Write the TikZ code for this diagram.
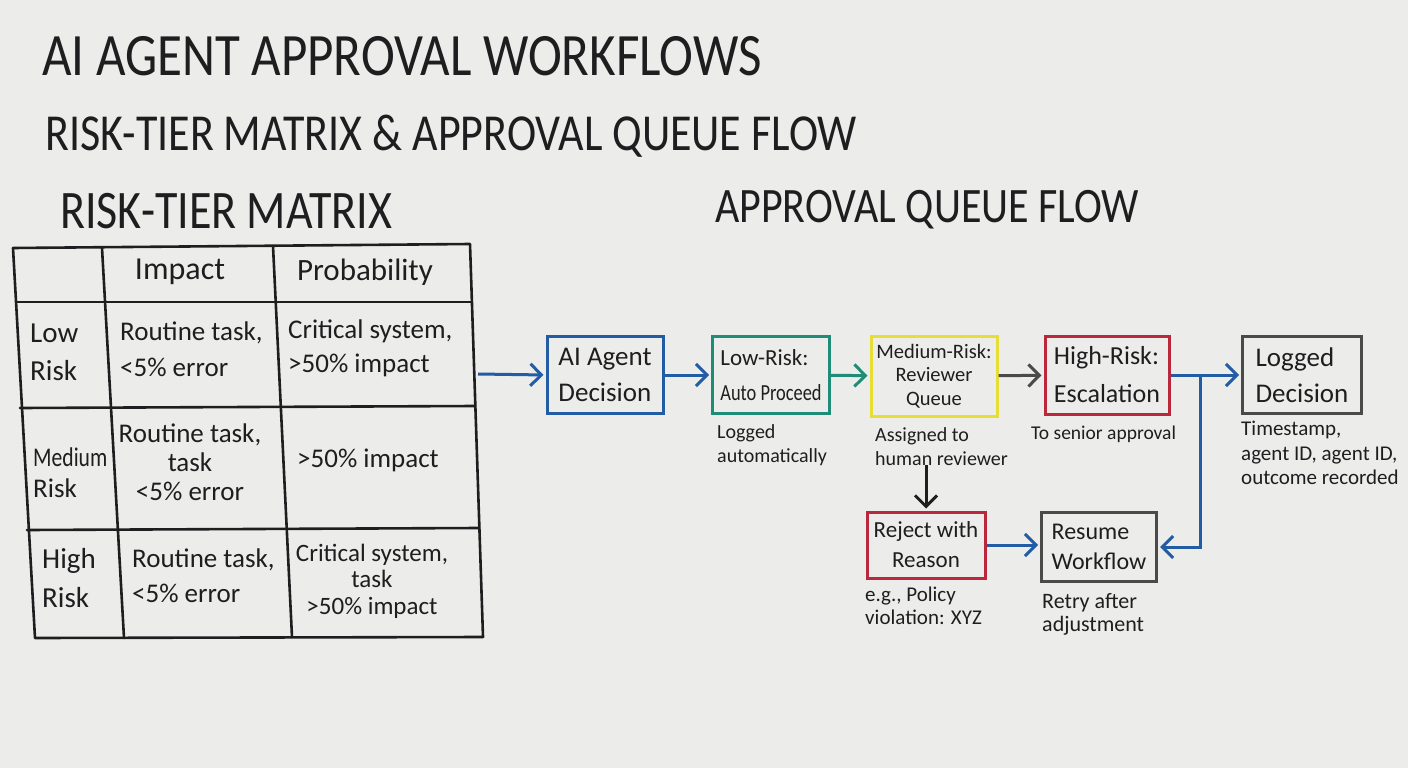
\documentclass[tikz,border=0pt]{standalone}
\usepackage{fontspec}
\setmainfont{Carlito}
\usepackage{graphicx}
\usetikzlibrary{arrows.meta}

\definecolor{board}{RGB}{236,237,234}
\definecolor{ink}{RGB}{30,30,32}
\definecolor{mkblue}{RGB}{34,92,165}
\definecolor{mkteal}{RGB}{30,140,118}
\definecolor{mkyellow}{RGB}{230,222,52}
\definecolor{mkred}{RGB}{186,40,62}
\definecolor{mkgray}{RGB}{74,74,72}
\newcommand{\tallcaps}[1]{\scalebox{1}[1.18]{#1}}

\begin{document}
\begin{tikzpicture}[x=1pt, y=-1pt,
  heading/.style={anchor=base west, text=ink, inner sep=0pt},
  gridline/.style={ink, line width=2.6pt, line cap=round, line join=round},
  celltext/.style={text=ink, inner sep=0pt, font={\fontsize{27}{36}\selectfont}},
  flowbox/.style={draw, line width=3pt, text=ink, align=left, inner sep=0pt, minimum width=116pt, minimum height=77pt},
  note/.style={text=ink, inner sep=0pt, anchor=north west, align=left, font={\fontsize{20}{24.5}\selectfont}},
  link/.style={line width=3pt, shorten >=2pt, -{Straight Barb[length=11pt, width=22pt]}}]
\useasboundingbox (0,0) rectangle (1408,768);
\fill[board] (0,0) rectangle (1408,768);

\node[heading, font={\fontsize{51}{51}\selectfont}] (title) at (42,76) {\tallcaps{AI AGENT APPROVAL WORKFLOWS}};
\node[heading, font={\fontsize{44}{44}\selectfont}] (subtitle) at (45,150) {\tallcaps{RISK-TIER MATRIX \& APPROVAL QUEUE FLOW}};
\node[heading, font={\fontsize{46}{46}\selectfont}] (matrixtitle) at (60,228) {\tallcaps{RISK-TIER MATRIX}};
\node[heading, font={\fontsize{42}{42}\selectfont}] (flowtitle) at (715,222) {\tallcaps{APPROVAL QUEUE FLOW}};

\draw[gridline] (13,248) -- (470,244) -- (483,637) -- (35,638) -- cycle;
\draw[gridline] (16,302) -- (472,302);
\draw[gridline] (20,408) -- (475,406);
\draw[gridline] (27,530) -- (479,528);
\draw[gridline] (102,248) -- (124,638);
\draw[gridline] (273,246) -- (292,637);

\node[celltext, font={\fontsize{32}{32}\selectfont}] (impacthead) at (180,272) {Impact};
\node[celltext, font={\fontsize{31}{31}\selectfont}] (probhead) at (365,272) {Probability};
\node[celltext, anchor=west, align=left, font={\fontsize{29}{38}\selectfont}] (lowhead) at (30,352) {Low\\Risk};
\node[celltext, anchor=west, align=left] (lowimpact) at (120,349) {Routine task,\\<5\% error};
\node[celltext, anchor=west, align=left, font={\fontsize{27}{34}\selectfont}] (lowprob) at (288,348) {Critical system,\\>50\% impact};
\node[celltext, anchor=west, align=left, font={\fontsize{27}{31}\selectfont}] (medhead) at (33,473) {\scalebox{0.8}[1]{Medium}\\Risk};
\node[celltext, align=center, font={\fontsize{27}{29}\selectfont}] (medimpact) at (190,462) {Routine task,\\task\\<5\% error};
\node[celltext] (medprob) at (368,460) {>50\% impact};
\node[celltext, anchor=west, align=left, font={\fontsize{29}{39}\selectfont}] (highhead) at (42,578) {High\\Risk};
\node[celltext, anchor=west, align=left, font={\fontsize{27}{35}\selectfont}] (highimpact) at (132,576) {Routine task,\\<5\% error};
\node[celltext, align=center, font={\fontsize{25}{26.5}\selectfont}] (highprob) at (372,581) {Critical system,\\task\\>50\% impact};
\coordinate (matrixout) at (478,374);

\node[flowbox, draw=mkblue, font={\fontsize{27}{36}\selectfont}] (agent) at (605,375) {AI Agent\\Decision};
\node[flowbox, draw=mkteal, minimum width=117pt, font={\fontsize{23}{35}\selectfont}] (lowrisk) at (771,375) {Low-Risk:\\\scalebox{0.8}[1]{Auto Proceed}};
\node[flowbox, draw=mkyellow, align=center, minimum width=126pt, minimum height=80pt, font={\fontsize{20.5}{23.5}\selectfont}] (medrisk) at (934,376) {Medium-Risk:\\Reviewer\\Queue};
\node[flowbox, draw=mkred, minimum width=124pt, minimum height=78pt, font={\fontsize{26}{38}\selectfont}] (highrisk) at (1107,375) {High-Risk:\\Escalation};
\node[flowbox, draw=mkgray, minimum width=119pt, font={\fontsize{27}{36}\selectfont}] (logged) at (1302,375) {Logged\\Decision};
\node[flowbox, draw=mkred, align=center, minimum width=118pt, minimum height=66pt, font={\fontsize{23}{30}\selectfont}] (reject) at (926,545) {Reject with\\Reason};
\node[flowbox, draw=mkgray, minimum width=115pt, minimum height=69pt, font={\fontsize{24}{30}\selectfont}] (resume) at (1099,547) {Resume\\Workflow};

\node[note] (lownote) at (717,424) {Logged\\automatically};
\node[note, font={\fontsize{20}{24}\selectfont}] (reviewnote) at (875,427) {Assigned to\\human reviewer};
\node[note, font={\fontsize{19.5}{24}\selectfont}] (escnote) at (1031,426) {To senior approval};
\node[note, font={\fontsize{21}{24.5}\selectfont}] (loggednote) at (1241,421) {Timestamp,\\agent ID, agent ID,\\outcome recorded};
\node[note, font={\fontsize{21}{23}\selectfont}] (rejectnote) at (865,587) {e.g., Policy\\violation: XYZ};
\node[note, font={\fontsize{22}{23}\selectfont}] (resumenote) at (1042,593) {Retry after\\adjustment};

\draw[link, mkblue] (matrixout) -- (agent.west);
\draw[link, mkblue] (agent) -- (lowrisk);
\draw[link, mkteal] (lowrisk) -- (medrisk);
\draw[link, mkgray] (medrisk) -- (highrisk);
\draw[link, mkblue] (highrisk) -- (logged);
\coordinate (split) at (1200,375);
\draw[link, mkblue] (split) |- (resume.east);
\draw[link, ink] (reviewnote.south -| reject.north) -- (reject.north);
\draw[link, mkblue] (reject.east) -- (reject.east -| resume.west);
\end{tikzpicture}
\end{document}
